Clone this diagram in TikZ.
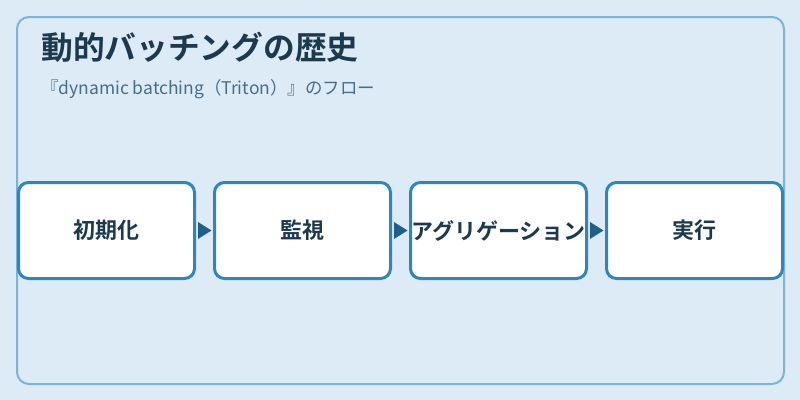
\documentclass[tikz,border=0pt]{standalone}
\usepackage{fontspec}
\setmainfont{Noto Sans CJK JP}
\newfontfamily\cjkb{Noto Sans CJK JP Bold}
\usetikzlibrary{arrows.meta,calc}
\definecolor{bgc}{HTML}{DCEBF6}
\definecolor{framec}{HTML}{7DB3D6}
\definecolor{boxc}{HTML}{2E86C1}
\definecolor{arrc}{HTML}{1F5F8B}
\definecolor{titlec}{HTML}{1B3A4F}
\definecolor{subc}{HTML}{4A6B8A}
\tikzset{
  stepbox/.style={draw=boxc, line width=2.25pt, fill=white, rounded corners=7.5pt,
    minimum width=132pt, minimum height=72pt, inner sep=0pt,
    font=\cjkb\fontsize{16.5pt}{19pt}\selectfont, text=titlec},
  flowhead/.style={fill=arrc},
}
\newcommand{\flowtri}[2]{\fill[flowhead] ($(#1.east)+(2,-8.5)$) -- ($(#1.east)+(2,8.5)$) -- ($(#2.west)+(-1.5,0)$) -- cycle;}
\begin{document}
\begin{tikzpicture}[x=0.75pt,y=-0.75pt]
\useasboundingbox (0,0) rectangle (800,400);
\fill[bgc] (0,0) rectangle (800,400);
\draw[framec, line width=1.5pt, rounded corners=9pt] (17,17) rectangle (784,384);
\node[anchor=west, text=titlec, font=\cjkb\fontsize{23.8pt}{27pt}\selectfont, inner sep=0pt] (title) at (41,47) {動的バッチングの歴史};
\node[anchor=west, text=subc, font=\fontsize{13.1pt}{15pt}\selectfont, inner sep=0pt] (sub) at (41,89) {『dynamic batching（Triton）』のフロー};
\node[stepbox] (b1) at (106.5,230.5) {初期化};
\node[stepbox] (b2) at (302.5,230.5) {監視};
\node[stepbox] (b3) at (498.5,230.5) {アグリゲーション};
\node[stepbox] (b4) at (694.5,230.5) {実行};
\flowtri{b1}{b2}
\flowtri{b2}{b3}
\flowtri{b3}{b4}
\end{tikzpicture}
\end{document}
